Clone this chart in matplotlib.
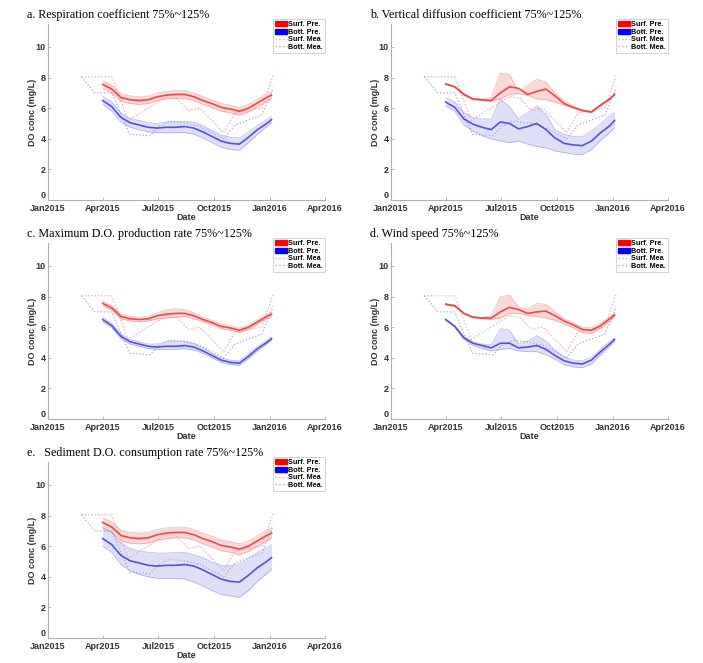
import numpy as np
import matplotlib
matplotlib.use('Agg')
import matplotlib.pyplot as plt
from matplotlib.patches import Patch
from matplotlib.lines import Line2D

plt.rcParams['font.family'] = 'Liberation Sans'

# dates of the model output
pre_dates = np.array(['2015-04-01', '2015-04-16', '2015-05-01', '2015-05-16', '2015-05-31',
                      '2015-06-15', '2015-06-30', '2015-07-15', '2015-07-30', '2015-08-14',
                      '2015-08-29', '2015-09-13', '2015-09-28', '2015-10-13', '2015-10-28',
                      '2015-11-12', '2015-11-27', '2015-12-12', '2015-12-27', '2016-01-04'],
                     dtype='datetime64[D]')

# measured DO
surf_mea_dates = np.array(['2015-02-25', '2015-04-16', '2015-05-13', '2015-07-15', '2015-08-01',
                           '2015-08-20', '2015-09-08', '2015-10-17', '2015-11-05', '2015-12-19',
                           '2016-01-07'], dtype='datetime64[D]')
surf_mea = [8.05, 8.05, 5.2, 6.75, 6.65, 5.85, 6.0, 4.4, 5.7, 6.0, 8.2]
bott_mea_dates = np.array(['2015-02-25', '2015-03-19', '2015-04-16', '2015-05-11', '2015-05-15',
                           '2015-06-18', '2015-07-02', '2015-07-21', '2015-08-20', '2015-09-08',
                           '2015-10-17', '2015-11-05', '2015-12-19', '2016-01-07'],
                          dtype='datetime64[D]')
bott_mea = [8.05, 7.0, 7.0, 4.7, 4.3, 4.2, 4.8, 5.15, 5.0, 4.8, 4.0, 4.9, 5.55, 7.35]

# a. respiration coefficient
a_surf = [7.55, 7.25, 6.7, 6.55, 6.5, 6.55, 6.75, 6.85, 6.9, 6.9, 6.75, 6.5, 6.3, 6.05, 5.95, 5.8, 6.0, 6.35, 6.7, 6.85]
a_surf_lo = [7.3, 7.0, 6.45, 6.3, 6.25, 6.3, 6.5, 6.6, 6.65, 6.65, 6.5, 6.25, 6.05, 5.8, 5.7, 5.55, 5.75, 6.1, 6.45, 6.6]
a_surf_hi = [7.8, 7.5, 6.95, 6.8, 6.75, 6.8, 7.0, 7.1, 7.15, 7.15, 7.0, 6.75, 6.55, 6.3, 6.2, 6.05, 6.25, 6.6, 6.95, 7.1]
a_bott = [6.5, 6.1, 5.4, 5.05, 4.9, 4.75, 4.7, 4.75, 4.75, 4.8, 4.7, 4.45, 4.15, 3.85, 3.7, 3.65, 4.1, 4.6, 5.0, 5.25]
a_bott_lo = [6.25, 5.8, 5.1, 4.75, 4.6, 4.45, 4.4, 4.4, 4.4, 4.4, 4.3, 4.05, 3.75, 3.45, 3.3, 3.25, 3.75, 4.3, 4.8, 5.05]
a_bott_hi = [6.8, 6.4, 5.7, 5.35, 5.2, 5.05, 5.0, 5.1, 5.1, 5.15, 5.1, 4.85, 4.55, 4.25, 4.1, 4.05, 4.45, 4.9, 5.25, 5.45]

# b. vertical diffusion coefficient
b_surf = [7.58, 7.4, 6.9, 6.6, 6.55, 6.5, 7.0, 7.4, 7.3, 6.9, 7.1, 7.25, 6.8, 6.3, 6.05, 5.85, 5.75, 6.2, 6.6, 6.9]
b_surf_lo = [7.55, 7.35, 6.85, 6.55, 6.5, 6.45, 6.6, 6.9, 6.95, 6.85, 6.6, 6.55, 6.4, 6.2, 6.0, 5.8, 5.7, 6.15, 6.55, 6.85]
b_surf_hi = [7.62, 7.45, 6.95, 6.65, 6.6, 6.7, 8.3, 8.2, 7.1, 7.5, 7.9, 7.7, 7.0, 6.45, 6.15, 5.9, 5.8, 6.25, 6.65, 6.95]
b_bott = [6.4, 6.05, 5.3, 4.95, 4.75, 4.6, 5.1, 5.0, 4.65, 4.8, 5.0, 4.6, 4.05, 3.7, 3.6, 3.55, 3.85, 4.4, 4.85, 5.2]
b_bott_lo = [6.15, 5.8, 4.9, 4.5, 4.2, 4.0, 3.85, 3.75, 3.85, 3.65, 3.5, 3.4, 3.2, 3.1, 3.0, 2.95, 3.3, 3.9, 4.4, 4.7]
b_bott_hi = [6.7, 6.4, 5.7, 5.4, 5.3, 5.3, 6.6, 6.1, 5.3, 5.7, 6.15, 5.6, 4.6, 4.3, 4.15, 4.15, 4.5, 5.0, 5.5, 5.7]

# c. maximum D.O. production rate
c_surf = [7.55, 7.25, 6.7, 6.55, 6.5, 6.55, 6.75, 6.85, 6.9, 6.9, 6.75, 6.5, 6.3, 6.05, 5.95, 5.8, 6.0, 6.35, 6.7, 6.85]
c_surf_lo = [7.4, 7.1, 6.55, 6.4, 6.35, 6.4, 6.55, 6.6, 6.65, 6.7, 6.55, 6.35, 6.15, 5.9, 5.8, 5.65, 5.85, 6.2, 6.55, 6.7]
c_surf_hi = [7.7, 7.4, 6.85, 6.7, 6.65, 6.7, 6.95, 7.15, 7.2, 7.15, 6.95, 6.65, 6.45, 6.2, 6.1, 5.95, 6.15, 6.5, 6.85, 7.0]
c_bott = [6.5, 6.1, 5.4, 5.05, 4.9, 4.75, 4.7, 4.75, 4.75, 4.8, 4.7, 4.45, 4.15, 3.85, 3.7, 3.65, 4.1, 4.6, 5.0, 5.25]
c_bott_lo = [6.35, 5.95, 5.25, 4.9, 4.75, 4.6, 4.55, 4.55, 4.55, 4.6, 4.5, 4.3, 4.0, 3.7, 3.55, 3.5, 3.95, 4.45, 4.9, 5.15]
c_bott_hi = [6.65, 6.25, 5.55, 5.2, 5.05, 4.9, 4.9, 5.05, 5.1, 5.1, 4.95, 4.65, 4.3, 4.0, 3.85, 3.8, 4.25, 4.75, 5.15, 5.35]

# d. wind speed
d_surf = [7.5, 7.4, 6.9, 6.65, 6.6, 6.6, 7.0, 7.3, 7.15, 6.9, 7.0, 7.05, 6.75, 6.4, 6.15, 5.85, 5.8, 6.1, 6.55, 6.8]
d_surf_lo = [7.45, 7.35, 6.85, 6.6, 6.55, 6.5, 6.6, 6.9, 6.9, 6.75, 6.7, 6.6, 6.45, 6.2, 5.95, 5.65, 5.6, 5.95, 6.4, 6.7]
d_surf_hi = [7.55, 7.45, 6.95, 6.7, 6.65, 6.75, 8.0, 8.1, 7.3, 7.2, 7.55, 7.5, 7.0, 6.55, 6.3, 6.0, 5.95, 6.25, 6.7, 6.9]
d_bott = [6.5, 6.05, 5.3, 4.95, 4.8, 4.65, 4.95, 4.95, 4.65, 4.7, 4.8, 4.55, 4.15, 3.8, 3.65, 3.6, 3.85, 4.4, 4.9, 5.2]
d_bott_lo = [6.45, 6.0, 5.2, 4.8, 4.6, 4.45, 4.55, 4.6, 4.45, 4.4, 4.4, 4.2, 3.9, 3.55, 3.4, 3.35, 3.6, 4.2, 4.75, 5.1]
d_bott_hi = [6.55, 6.1, 5.4, 5.05, 4.9, 4.85, 5.9, 5.8, 4.9, 5.1, 5.45, 5.1, 4.5, 4.05, 3.85, 3.8, 4.05, 4.6, 5.05, 5.3]

# e. sediment D.O. consumption rate
e_surf = [7.55, 7.25, 6.7, 6.55, 6.5, 6.55, 6.75, 6.85, 6.9, 6.9, 6.75, 6.5, 6.3, 6.05, 5.95, 5.8, 6.0, 6.35, 6.7, 6.85]
e_surf_lo = [7.2, 6.9, 6.35, 6.2, 6.15, 6.2, 6.4, 6.5, 6.55, 6.55, 6.4, 6.15, 5.95, 5.7, 5.6, 5.45, 5.65, 6.0, 6.35, 6.5]
e_surf_hi = [7.85, 7.6, 7.05, 6.9, 6.85, 6.9, 7.1, 7.2, 7.25, 7.25, 7.1, 6.85, 6.65, 6.4, 6.3, 6.15, 6.35, 6.7, 7.05, 7.2]
e_bott = [6.5, 6.1, 5.4, 5.05, 4.9, 4.75, 4.7, 4.75, 4.75, 4.8, 4.7, 4.45, 4.15, 3.85, 3.7, 3.65, 4.1, 4.6, 5.0, 5.25]
e_bott_lo = [6.0, 5.6, 4.8, 4.4, 4.15, 4.0, 3.9, 3.9, 3.9, 3.85, 3.65, 3.4, 3.1, 2.85, 2.75, 2.65, 3.1, 3.7, 4.2, 4.5]
e_bott_hi = [7.2, 6.9, 6.2, 5.85, 5.7, 5.6, 5.55, 5.55, 5.6, 5.6, 5.45, 5.25, 4.95, 4.75, 4.75, 4.85, 5.2, 5.6, 5.9, 6.1]

titles = ['a. Respiration coefficient 75%~125%',
          'b. Vertical diffusion coefficient 75%~125%',
          'c. Maximum D.O. production rate 75%~125%',
          'd. Wind speed 75%~125%',
          'e.   Sediment D.O. consumption rate 75%~125%']
panels = [(a_surf, a_surf_lo, a_surf_hi, a_bott, a_bott_lo, a_bott_hi),
          (b_surf, b_surf_lo, b_surf_hi, b_bott, b_bott_lo, b_bott_hi),
          (c_surf, c_surf_lo, c_surf_hi, c_bott, c_bott_lo, c_bott_hi),
          (d_surf, d_surf_lo, d_surf_hi, d_bott, d_bott_lo, d_bott_hi),
          (e_surf, e_surf_lo, e_surf_hi, e_bott, e_bott_lo, e_bott_hi)]

tick_dates = np.array(['2015-01-01', '2015-04-01', '2015-07-01', '2015-10-01',
                       '2016-01-01', '2016-04-01'], dtype='datetime64[D]')
tick_labels = ['Jan2015', 'Apr2015', 'Jul2015', 'Oct2015', 'Jan2016', 'Apr2016']
legend_labels = ['Surf. Pre.', 'Bott. Pre.', 'Surf. Mea', 'Bott. Mea.']

RED = '#ee2e2e'
BLUE = '#3a3ade'
FILL_R = '#fbd0d0'
FILL_B = '#d8d8f6'
MEA_R = '#f0a4a4'
MEA_B = '#a4a4e0'

fig = plt.figure(figsize=(7.03, 6.63), dpi=100)
W, H = 703, 663
lefts = [48, 391]
zeros = [200, 419, 638]

for i, (title, p) in enumerate(zip(titles, panels)):
    col = i % 2
    row = i // 2
    ax = fig.add_axes([lefts[col] / W, (H - zeros[row]) / H, 277 / W, 176 / H])
    s, slo, shi, b, blo, bhi = p

    ax.plot(surf_mea_dates, surf_mea, color=MEA_R, lw=0.9, ls=':')
    ax.plot(bott_mea_dates, bott_mea, color=MEA_B, lw=0.9, ls=':')

    ax.fill_between(pre_dates, slo, shi, color=FILL_R, alpha=0.8, lw=0)
    ax.plot(pre_dates, slo, color=RED, lw=0.5, alpha=0.35)
    ax.plot(pre_dates, shi, color=RED, lw=0.5, alpha=0.35)
    ax.plot(pre_dates, s, color=RED, lw=1.2, alpha=0.85)

    ax.fill_between(pre_dates, blo, bhi, color=FILL_B, alpha=0.8, lw=0)
    ax.plot(pre_dates, blo, color=BLUE, lw=0.5, alpha=0.35)
    ax.plot(pre_dates, bhi, color=BLUE, lw=0.5, alpha=0.35)
    ax.plot(pre_dates, b, color=BLUE, lw=1.2, alpha=0.85)

    ax.set_xlim(tick_dates[0], tick_dates[-1])
    ax.set_ylim(0, 11.5)
    ax.set_xticks(tick_dates)
    ax.set_xticklabels(tick_labels)
    ax.set_yticks([0, 2, 4, 6, 8, 10])
    for sp in ['top', 'right']:
        ax.spines[sp].set_visible(False)
    for sp in ['left', 'bottom']:
        ax.spines[sp].set_color('#b0b0b0')
        ax.spines[sp].set_linewidth(0.8)
    ax.tick_params(direction='in', length=2, width=0.6, color='#b0b0b0',
                   labelsize=6.5, pad=1.5)
    ax.tick_params(axis='x', pad=3)
    for t in ax.get_xticklabels() + ax.get_yticklabels():
        t.set_fontweight('bold')
        t.set_color('#333333')
    ax.get_yticklabels()[0].set_va('bottom')
    ax.set_xlabel('Date', fontsize=6.5, fontweight='bold', color='#333333', labelpad=0)
    ax.set_ylabel('DO conc (mg/L)', fontsize=6.5, fontweight='bold', color='#333333', labelpad=-1)

    ax.text(-21 / 277, 1.05, title, transform=ax.transAxes, fontsize=8.7,
            family='Liberation Serif', va='center', ha='left')

    handles = [Patch(color='#ff0000'), Patch(color='#0000ff'),
               Line2D([], [], color=MEA_R, ls=':', lw=1),
               Line2D([], [], color=MEA_B, ls=':', lw=1)]
    leg = ax.legend(handles, legend_labels,
                    loc='upper right', bbox_to_anchor=(1.0, 1.03), fontsize=5.2,
                    frameon=True, fancybox=False, borderpad=0.3, labelspacing=0.05,
                    handlelength=1.6, handleheight=0.8, handletextpad=0.2,
                    borderaxespad=0)
    leg.get_frame().set_edgecolor('#c0c0c0')
    leg.get_frame().set_linewidth(0.6)
    for t in leg.get_texts():
        t.set_fontweight('bold')

fig.savefig('out.png', dpi=100)
